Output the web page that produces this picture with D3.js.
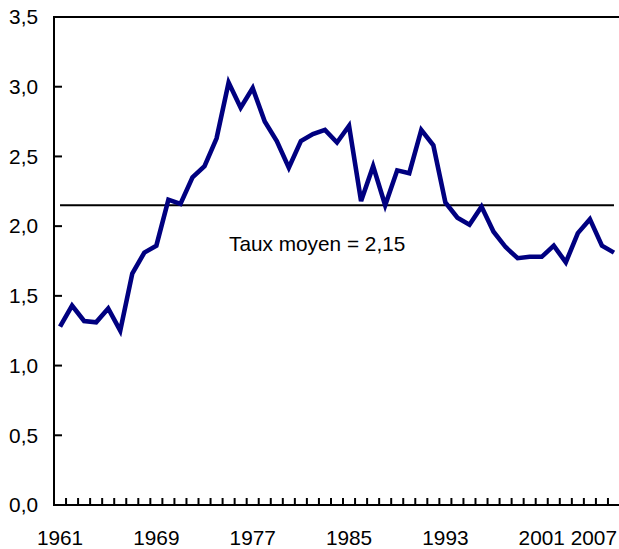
<!DOCTYPE html>
<html>
<head>
<meta charset="utf-8">
<script src="https://cdn.jsdelivr.net/npm/d3@7"></script>
<style>
  body { margin: 0; background: #fff; }
  svg { display: block; font-family: "Liberation Sans", Arial, Helvetica, sans-serif; }
</style>
</head>
<body>
<div id="chart"></div>
<script>
const years = d3.range(1961, 2008)
const taux = [
  1.28, 1.43, 1.32, 1.31, 1.41, 1.25, 1.66, 1.81, 1.86, 2.19,
  2.16, 2.35, 2.43, 2.63, 3.03, 2.85, 2.99, 2.75, 2.61, 2.42,
  2.61, 2.66, 2.69, 2.60, 2.72, 2.18, 2.43, 2.15, 2.40, 2.38,
  2.69, 2.58, 2.17, 2.06, 2.01, 2.14, 1.96, 1.85, 1.77, 1.78,
  1.78, 1.86, 1.74, 1.95, 2.05, 1.86, 1.81
]
const tauxMoyen = 2.15
const yTicks = [0, 0.5, 1, 1.5, 2, 2.5, 3, 3.5]
const xLabels = [1961, 1969, 1977, 1985, 1993, 2001, 2007]

const width = 619
const height = 549
const margin = { top: 17, right: -1, bottom: 44, left: 54 }
const fontSize = 20.8

const fr = d3.formatLocale({ decimal: ',', thousands: ' ', grouping: [3], currency: ['', ' €'] })
const fmt = fr.format('.1f')

const svg = d3.select('#chart').append('svg')
  .attr('width', width)
  .attr('height', height)

const x = d3.scaleBand()
  .domain(years)
  .range([margin.left, width - margin.right])
  .padding(0)

const y = d3.scaleLinear()
  .domain([0, 3.5])
  .range([height - margin.bottom, margin.top])

const cx = d => x(d) + x.bandwidth() / 2

// top border
svg.append('line')
  .attr('x1', margin.left).attr('x2', width)
  .attr('y1', y(3.5)).attr('y2', y(3.5))
  .attr('stroke', '#000').attr('stroke-width', 2)

// y axis
const yAxis = svg.append('g')
yAxis.append('line')
  .attr('x1', margin.left).attr('x2', margin.left)
  .attr('y1', y(3.5) - 1).attr('y2', y(0) + 1)
  .attr('stroke', '#000').attr('stroke-width', 2)
yAxis.selectAll('.tick').data(yTicks).enter().append('line')
  .attr('x1', margin.left).attr('x2', margin.left + 8)
  .attr('y1', d => y(d)).attr('y2', d => y(d))
  .attr('stroke', '#000').attr('stroke-width', 2)
yAxis.selectAll('text').data(yTicks).enter().append('text')
  .attr('x', 38)
  .attr('y', d => y(d))
  .attr('dy', '0.35em')
  .attr('text-anchor', 'end')
  .attr('font-size', fontSize)
  .text(d => fmt(d))

// x axis
const xAxis = svg.append('g')
xAxis.append('line')
  .attr('x1', margin.left - 1).attr('x2', width)
  .attr('y1', y(0)).attr('y2', y(0))
  .attr('stroke', '#000').attr('stroke-width', 2)
xAxis.selectAll('.tick').data(years.slice(1)).enter().append('line')
  .attr('x1', d => x(d)).attr('x2', d => x(d))
  .attr('y1', y(0)).attr('y2', y(0) - 7)
  .attr('stroke', '#000').attr('stroke-width', 2)
xAxis.selectAll('text').data(xLabels).enter().append('text')
  .attr('x', d => cx(d))
  .attr('y', 545)
  .attr('text-anchor', 'middle')
  .attr('font-size', fontSize)
  .text(d => d)
  .each(function () {
    const w = this.getComputedTextLength()
    const px = +this.getAttribute('x')
    if (px + w / 2 > width - 2) this.setAttribute('x', width - 2 - w / 2)
  })

// mean line
svg.append('line')
  .attr('x1', cx(years[0])).attr('x2', cx(years[years.length - 1]))
  .attr('y1', y(tauxMoyen)).attr('y2', y(tauxMoyen))
  .attr('stroke', '#000').attr('stroke-width', 2)

svg.append('text')
  .attr('x', 229)
  .attr('y', 251)
  .attr('font-size', fontSize)
  .text('Taux moyen = ' + fr.format('.2f')(tauxMoyen))

// series
const line = d3.line()
  .x((d, i) => cx(years[i]))
  .y(d => y(d))

svg.append('path')
  .datum(taux)
  .attr('d', line)
  .attr('fill', 'none')
  .attr('stroke', '#000080')
  .attr('stroke-width', 4.6)
  .attr('stroke-linejoin', 'miter')
</script>
</body>
</html>
